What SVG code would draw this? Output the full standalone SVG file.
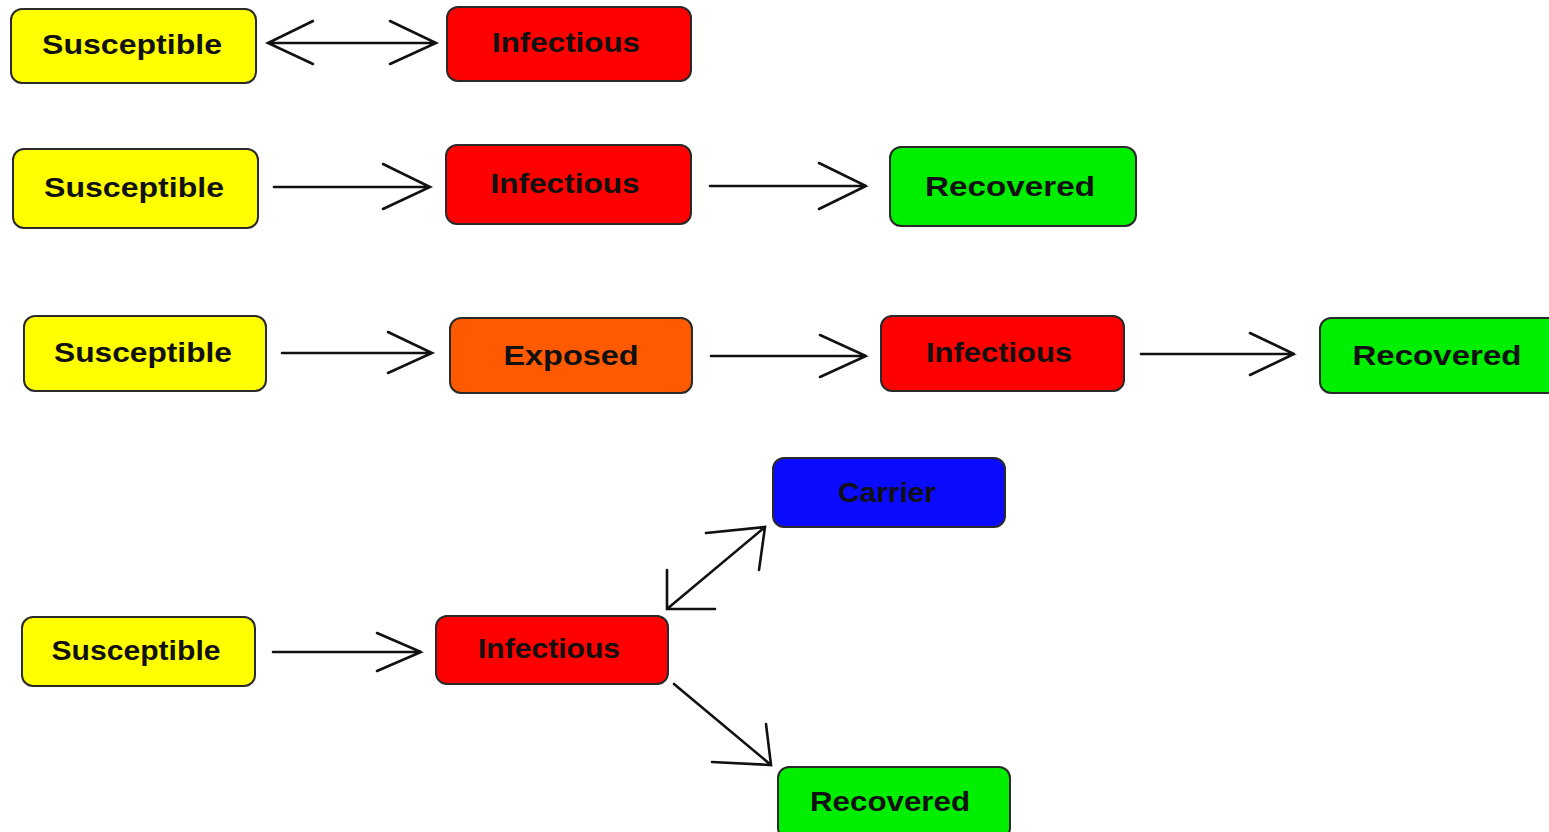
<svg xmlns="http://www.w3.org/2000/svg" width="1549" height="832" viewBox="0 0 1549 832">
<style>
.box{stroke:#2a2a2a;stroke-width:2}
.y{fill:#ffff00}.r{fill:#ff0000}.g{fill:#00ee00}.o{fill:#ff5a00}.b{fill:#0a0aff}
text{font-family:"Liberation Sans",Arial,sans-serif;font-weight:bold;font-size:28px;fill:#111;text-anchor:middle}
.c{fill:none;stroke:#111;stroke-width:2.6;stroke-linecap:round;stroke-linejoin:miter}
</style>
<rect width="1549" height="832" fill="#ffffff"/>
<!-- Row 1 -->
<g id="r1-susceptible"><rect class="box y" x="11" y="9" width="245" height="74" rx="11"/><text x="132" y="54" textLength="180" lengthAdjust="spacingAndGlyphs">Susceptible</text></g>
<g id="r1-infectious"><rect class="box r" x="447" y="7" width="244" height="74" rx="11"/><text x="566" y="52" textLength="148" lengthAdjust="spacingAndGlyphs">Infectious</text></g>
<!-- Row 2 -->
<g id="r2-susceptible"><rect class="box y" x="13" y="149" width="245" height="79" rx="11"/><text x="134" y="197" textLength="180" lengthAdjust="spacingAndGlyphs">Susceptible</text></g>
<g id="r2-infectious"><rect class="box r" x="446" y="145" width="245" height="79" rx="11"/><text x="565" y="193" textLength="149" lengthAdjust="spacingAndGlyphs">Infectious</text></g>
<g id="r2-recovered"><rect class="box g" x="890" y="147" width="246" height="79" rx="11"/><text x="1010" y="196" textLength="170" lengthAdjust="spacingAndGlyphs">Recovered</text></g>
<!-- Row 3 -->
<g id="r3-susceptible"><rect class="box y" x="24" y="316" width="242" height="75" rx="11"/><text x="143" y="362" textLength="178" lengthAdjust="spacingAndGlyphs">Susceptible</text></g>
<g id="r3-exposed"><rect class="box o" x="450" y="318" width="242" height="75" rx="11"/><text x="571" y="365" textLength="135" lengthAdjust="spacingAndGlyphs">Exposed</text></g>
<g id="r3-infectious"><rect class="box r" x="881" y="316" width="243" height="75" rx="11"/><text x="999" y="362" textLength="146" lengthAdjust="spacingAndGlyphs">Infectious</text></g>
<g id="r3-recovered"><rect class="box g" x="1320" y="318" width="245" height="75" rx="11"/><text x="1437" y="365" textLength="169" lengthAdjust="spacingAndGlyphs">Recovered</text></g>
<!-- Row 4 -->
<g id="r4-susceptible"><rect class="box y" x="22" y="617" width="233" height="69" rx="11"/><text x="136" y="660" textLength="169" lengthAdjust="spacingAndGlyphs">Susceptible</text></g>
<g id="r4-infectious"><rect class="box r" x="436" y="616" width="232" height="68" rx="11"/><text x="549" y="658" textLength="142" lengthAdjust="spacingAndGlyphs">Infectious</text></g>
<g id="r4-carrier"><rect class="box b" x="773" y="458" width="232" height="69" rx="11"/><text x="887" y="502" textLength="98" lengthAdjust="spacingAndGlyphs">Carrier</text></g>
<g id="r4-recovered"><rect class="box g" x="778" y="767" width="232" height="72" rx="11"/><text x="890" y="811" textLength="160" lengthAdjust="spacingAndGlyphs">Recovered</text></g>
<!-- Connectors -->
<g id="connectors">
<path class="c" d="M268 43 H436 M313 21 L268 43 L313 64 M390 21 L436 43 L390 64"/>
<path class="c" d="M274 187 H430 M383 164 L430 187 L383 209"/>
<path class="c" d="M710 186 H866 M819 163 L866 186 L819 209"/>
<path class="c" d="M282 353 H432 M388 332 L432 353 L388 373"/>
<path class="c" d="M711 356 H866 M820 335 L866 356 L820 377"/>
<path class="c" d="M1141 354 H1294 M1250 333 L1294 354 L1250 375"/>
<path class="c" d="M273 652 H421 M377 633 L421 652 L377 671"/>
<path class="c" d="M667 609 L765 527 M667 570 L667 609 L715 609 M706 533 L765 527 L759 570"/>
<path class="c" d="M674 684 L771 765 M766 724 L771 765 L712 762"/>
</g>
</svg>
